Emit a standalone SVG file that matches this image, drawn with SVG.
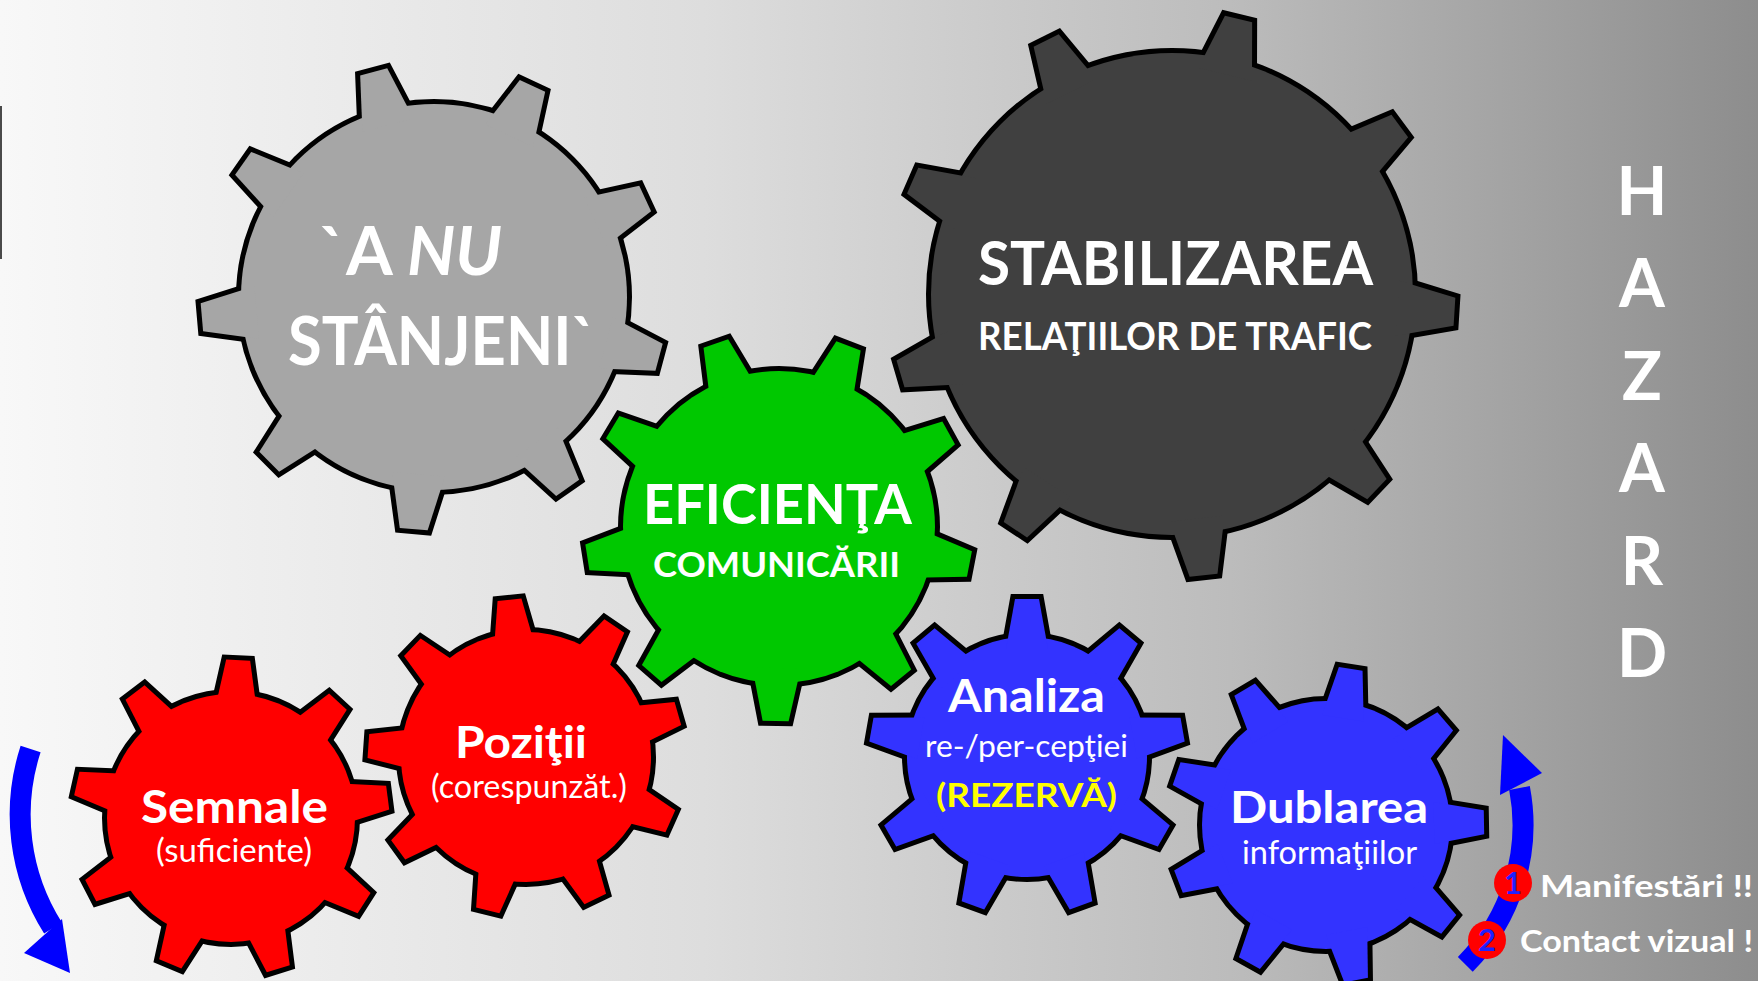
<svg xmlns="http://www.w3.org/2000/svg" xmlns:xlink="http://www.w3.org/1999/xlink" width="1758" height="981" viewBox="0 0 1758 981">
<style>
.ol{fill:#000;stroke:#000;stroke-width:10;stroke-linejoin:miter}
.t{font-family:Lato,"Open Sans","Liberation Sans",sans-serif;fill:#fff;text-anchor:middle}
.b{font-weight:bold}
.arr{fill:none;stroke:#0000ff;stroke-width:21}
.ah{fill:#0000ff}
</style>
<defs>
<linearGradient id="bg" x1="0" y1="0" x2="1" y2="0">
<stop offset="0" stop-color="#f8f8f8"/>
<stop offset="0.4" stop-color="#dddddd"/>
<stop offset="0.7" stop-color="#bcbcbc"/>
<stop offset="1" stop-color="#8d8d8d"/>
</linearGradient>
<polygon id="t-big" points="178,-26.4 233,-14 233,14 178,26.4"/>
<polygon id="t-dark" points="226,-27.6 283,-14 283,14 226,27.6"/>
<polygon id="t-mid" points="141,-24.2 194,-13 194,13 141,24.2"/>
<polygon id="t-s" points="108,-21 158,-12 158,12 108,21"/>
<g id="shape-gray">
<circle r="193"/>
<use href="#t-big" transform="rotate(15)"/><use href="#t-big" transform="rotate(55)"/><use href="#t-big" transform="rotate(95)"/>
<use href="#t-big" transform="rotate(135)"/><use href="#t-big" transform="rotate(175)"/><use href="#t-big" transform="rotate(215)"/>
<use href="#t-big" transform="rotate(255)"/><use href="#t-big" transform="rotate(295)"/><use href="#t-big" transform="rotate(335)"/>
</g>
<g id="shape-dark">
<circle r="241"/>
<use href="#t-dark" transform="rotate(3.6)"/><use href="#t-dark" transform="rotate(43.6)"/><use href="#t-dark" transform="rotate(83.6)"/>
<use href="#t-dark" transform="rotate(123.6)"/><use href="#t-dark" transform="rotate(163.6)"/><use href="#t-dark" transform="rotate(203.6)"/>
<use href="#t-dark" transform="rotate(243.6)"/><use href="#t-dark" transform="rotate(283.6)"/><use href="#t-dark" transform="rotate(323.6)"/>
</g>
<g id="shape-green">
<circle r="156"/>
<use href="#t-mid" transform="rotate(11)"/><use href="#t-mid" transform="rotate(51)"/><use href="#t-mid" transform="rotate(91)"/>
<use href="#t-mid" transform="rotate(131)"/><use href="#t-mid" transform="rotate(171)"/><use href="#t-mid" transform="rotate(211)"/>
<use href="#t-mid" transform="rotate(251)"/><use href="#t-mid" transform="rotate(291)"/><use href="#t-mid" transform="rotate(331)"/>
</g>
<g id="shape-semnale">
<circle r="124"/>
<use href="#t-s" transform="rotate(32.6)"/><use href="#t-s" transform="rotate(72.6)"/><use href="#t-s" transform="rotate(112.6)"/>
<use href="#t-s" transform="rotate(152.6)"/><use href="#t-s" transform="rotate(192.6)"/><use href="#t-s" transform="rotate(232.6)"/>
<use href="#t-s" transform="rotate(272.6)"/><use href="#t-s" transform="rotate(312.6)"/><use href="#t-s" transform="rotate(352.6)"/>
</g>
<g id="shape-pozitii">
<circle r="125"/>
<use href="#t-s" transform="rotate(24)"/><use href="#t-s" transform="rotate(64)"/><use href="#t-s" transform="rotate(104)"/>
<use href="#t-s" transform="rotate(144)"/><use href="#t-s" transform="rotate(184)"/><use href="#t-s" transform="rotate(224)"/>
<use href="#t-s" transform="rotate(264)"/><use href="#t-s" transform="rotate(304)"/><use href="#t-s" transform="rotate(344)"/>
</g>
<g id="shape-analiza">
<circle r="120"/>
<use href="#t-s" transform="rotate(30)"/><use href="#t-s" transform="rotate(70)"/><use href="#t-s" transform="rotate(110)"/>
<use href="#t-s" transform="rotate(150)"/><use href="#t-s" transform="rotate(190)"/><use href="#t-s" transform="rotate(230)"/>
<use href="#t-s" transform="rotate(270)"/><use href="#t-s" transform="rotate(310)"/><use href="#t-s" transform="rotate(350)"/>
</g>
<g id="shape-dublarea">
<circle r="124"/>
<use href="#t-s" transform="rotate(39)"/><use href="#t-s" transform="rotate(79)"/><use href="#t-s" transform="rotate(119)"/>
<use href="#t-s" transform="rotate(159)"/><use href="#t-s" transform="rotate(199)"/><use href="#t-s" transform="rotate(239)"/>
<use href="#t-s" transform="rotate(279)"/><use href="#t-s" transform="rotate(319)"/><use href="#t-s" transform="rotate(359)"/>
</g>
</defs>

<rect x="0" y="0" width="1758" height="981" fill="url(#bg)"/>
<rect x="0" y="106" width="2" height="153" fill="#4a4a4a"/>

<g id="gear-a-nu-stanjeni">
<g transform="translate(434,297)">
<use href="#shape-gray" class="ol"/>
<use href="#shape-gray" fill="#a6a6a6"/>
</g>
<text class="t b" x="410.5" y="275" font-size="66" textLength="183" lengthAdjust="spacingAndGlyphs">`A <tspan font-style="italic">NU</tspan></text>
<text class="t b" x="442" y="365" font-size="66" textLength="308" lengthAdjust="spacingAndGlyphs">STÂNJENI`</text>
</g>

<g id="gear-stabilizarea">
<g transform="translate(1172,294)">
<use href="#shape-dark" class="ol"/>
<use href="#shape-dark" fill="#404040"/>
</g>
<text class="t b" x="1175.5" y="285" font-size="62" textLength="395" lengthAdjust="spacingAndGlyphs">STABILIZAREA</text>
<text class="t b" x="1175" y="350" font-size="38" textLength="394" lengthAdjust="spacingAndGlyphs">RELAŢIILOR DE TRAFIC</text>
</g>

<g id="gear-eficienta">
<g transform="translate(779,527)">
<use href="#shape-green" class="ol"/>
<use href="#shape-green" fill="#00c800"/>
</g>
<text class="t b" x="777.5" y="524" font-size="55" textLength="269" lengthAdjust="spacingAndGlyphs">EFICIENŢA</text>
<text class="t b" x="776.5" y="577" font-size="35" textLength="247" lengthAdjust="spacingAndGlyphs">COMUNICĂRII</text>
</g>

<g id="gear-semnale">
<g transform="translate(231,818)">
<use href="#shape-semnale" class="ol"/>
<use href="#shape-semnale" fill="#ff0000"/>
</g>
<text class="t b" x="234.5" y="823" font-size="46" textLength="187" lengthAdjust="spacingAndGlyphs">Semnale</text>
<text class="t" x="234" y="862" font-size="32" textLength="156" lengthAdjust="spacingAndGlyphs">(suficiente)</text>
</g>

<g id="gear-pozitii">
<g transform="translate(526,757)">
<use href="#shape-pozitii" class="ol"/>
<use href="#shape-pozitii" fill="#ff0000"/>
</g>
<text class="t b" x="521" y="758" font-size="44" textLength="132" lengthAdjust="spacingAndGlyphs">Poziţii</text>
<text class="t" x="529" y="798" font-size="32" textLength="196" lengthAdjust="spacingAndGlyphs">(corespunzăt.)</text>
</g>

<g id="gear-analiza">
<g transform="translate(1027,757)">
<use href="#shape-analiza" class="ol"/>
<use href="#shape-analiza" fill="#3333ff"/>
</g>
<text class="t b" x="1026.5" y="712" font-size="45" textLength="157" lengthAdjust="spacingAndGlyphs">Analiza</text>
<text class="t" x="1026.5" y="757" font-size="31" textLength="203" lengthAdjust="spacingAndGlyphs">re-/per-cepţiei</text>
<text class="t b" x="1026.5" y="807" font-size="33" fill="#ffff00" style="fill:#ffff00" textLength="181" lengthAdjust="spacingAndGlyphs">(REZERVĂ)</text>
</g>

<g id="gear-dublarea">
<g transform="translate(1326,825)">
<use href="#shape-dublarea" class="ol"/>
<use href="#shape-dublarea" fill="#3333ff"/>
</g>
<text class="t b" x="1329" y="823" font-size="44" textLength="198" lengthAdjust="spacingAndGlyphs">Dublarea</text>
<text class="t" x="1329.5" y="864" font-size="32" textLength="175" lengthAdjust="spacingAndGlyphs">informaţiilor</text>
</g>

<g id="hazard">
<text class="t b" x="1642" y="215" font-size="66">H</text>
<text class="t b" x="1642" y="307" font-size="66">A</text>
<text class="t b" x="1642" y="400" font-size="66">Z</text>
<text class="t b" x="1642" y="492" font-size="66">A</text>
<text class="t b" x="1642" y="585" font-size="66">R</text>
<text class="t b" x="1642" y="677" font-size="66">D</text>
</g>

<g id="arrows">
<path class="arr" d="M 30.6 749 A 212 212 0 0 0 53 928"/>
<polygon class="ah" points="24,953 62,919 70,973"/>
<path class="arr" d="M 1465.3 964.3 A 197 197 0 0 0 1519.5 788"/>
<polygon class="ah" points="1500,795 1542,773 1503,735"/>
</g>

<g id="legend">
<circle cx="1513" cy="883" r="19" fill="#ff0000"/>
<text class="t b" x="1513" y="894" font-size="31" style="fill:#2020ff">1</text>
<circle cx="1487" cy="940" r="19" fill="#ff0000"/>
<text class="t b" x="1487" y="951" font-size="31" style="fill:#2020ff">2</text>
<text class="t b" x="1540" y="897" font-size="31" style="text-anchor:start" textLength="213" lengthAdjust="spacingAndGlyphs">Manifestări  !!</text>
<text class="t b" x="1520" y="952" font-size="31" style="text-anchor:start" textLength="233" lengthAdjust="spacingAndGlyphs">Contact vizual !</text>
</g>
</svg>
